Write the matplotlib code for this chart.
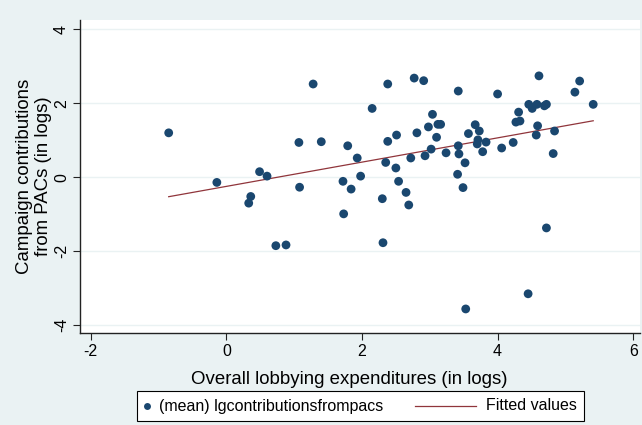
import numpy as np
import matplotlib.pyplot as plt
from matplotlib.lines import Line2D
from matplotlib.patches import Rectangle

plt.rcParams['font.family'] = ['Liberation Sans', 'DejaVu Sans']
plt.rcParams['axes.unicode_minus'] = False

# lobbying expenditures (logs) and PAC contributions (logs)
lobby = [-0.85, -0.14, 0.36, 0.33, 0.49, 0.60, 0.73, 0.88, 1.07, 1.08,
         1.28, 1.40, 1.72, 1.73, 1.79, 1.84, 1.93, 1.98, 2.15, 2.30,
         2.31, 2.35, 2.38, 2.38, 2.50, 2.51, 2.54, 2.65, 2.69, 2.72,
         2.77, 2.81, 2.91, 2.93, 2.98, 3.04, 3.02, 3.10, 3.12, 3.16,
         3.24, 3.42, 3.41, 3.49, 3.53, 3.42, 3.43, 3.52, 3.57, 3.67,
         3.73, 3.71, 3.70, 3.83, 3.78, 4.00, 4.06, 4.23, 4.27, 4.33,
         4.31, 4.45, 4.46, 4.51, 4.58, 4.69, 4.72, 4.61, 4.57, 4.59,
         4.72, 4.82, 4.84, 5.14, 5.21, 5.41]
pacs = [1.20, -0.14, -0.52, -0.70, 0.15, 0.03, -1.85, -1.83, 0.94, -0.27,
        2.52, 0.96, -0.11, -0.99, 0.85, -0.32, 0.52, 0.03, 1.86, -0.58,
        -1.77, 0.40, 2.52, 0.97, 0.25, 1.14, -0.11, -0.41, -0.75, 0.52,
        2.68, 1.20, 2.61, 0.58, 1.36, 1.70, 0.76, 1.08, 1.43, 1.43,
        0.66, 2.33, 0.08, -0.28, -3.56, 0.85, 0.63, 0.39, 1.18, 1.42,
        1.25, 1.01, 0.90, 0.95, 0.69, 2.25, 0.79, 0.94, 1.49, 1.52,
        1.76, -3.15, 1.97, 1.86, 1.97, 1.93, 1.97, 2.74, 1.14, 1.39,
        -1.37, 0.64, 1.25, 2.30, 2.60, 1.97]

x = np.array(lobby)
y = np.array(pacs)

# linear fit
a, b = np.polyfit(x, y, 1)
xs = np.array([x.min(), x.max()])
ys = a*xs + b

dotc = '#1a476f'
fitc = '#90353b'
bg = '#eaf2f3'
W, H = 642, 425

fig = plt.figure(figsize=(W/100, H/100), dpi=100, facecolor=bg)
ax = fig.add_axes([80/W, 1-333/H, 560/W, 313/H])
ax.set_facecolor('white')

ax.scatter(x, y, s=40, color=dotc, edgecolors='none', zorder=3)
ax.plot(xs, ys, color=fitc, lw=0.9, zorder=2)

ax.set_xlim(-2.158, 6.10)
ax.set_ylim(-4.21, 4.25)
ax.set_xticks([-2, 0, 2, 4, 6])
ax.set_yticks([-4, -2, 0, 2, 4])
ax.grid(axis='y', color=bg, lw=1)
ax.set_axisbelow(True)

for s in ['top', 'right']:
    ax.spines[s].set_visible(False)
for s in ['left', 'bottom']:
    ax.spines[s].set_color('#222222')
    ax.spines[s].set_linewidth(1.0)

ax.tick_params(axis='both', direction='out', length=5, width=0.8,
               color='#222222', labelsize=11.5, pad=3)
plt.setp(ax.get_yticklabels(), rotation=90, va='center')

ax.set_xlabel('Overall lobbying expenditures (in logs)', fontsize=13.4, va='center')
ax.xaxis.set_label_coords((349-80)/560, -46/313)
ax.set_ylabel('Campaign contributions\nfrom PACs (in logs)', fontsize=13.4,
              va='center', linespacing=1.2)
ax.yaxis.set_label_coords(-46/560, 0.5)

# legend box below the axes
ly = 1 - 406/H
fig.add_artist(Rectangle((137/W, 1-421/H), 447/W, 30/H, transform=fig.transFigure,
                         facecolor='white', edgecolor='black', lw=0.8))
fig.add_artist(Line2D([147/W], [ly], transform=fig.transFigure, marker='o',
                      ms=5, color=dotc, mec='none', ls='none'))
fig.text(159/W, ly, '(mean) lgcontributionsfrompacs', fontsize=11.5, va='center')
fig.add_artist(Line2D([415/W, 476/W], [ly, ly], transform=fig.transFigure,
                      color=fitc, lw=0.9))
fig.text(486/W, ly, 'Fitted values', fontsize=11.5, va='center')

fig.savefig('out.png', dpi=100, facecolor=bg)
